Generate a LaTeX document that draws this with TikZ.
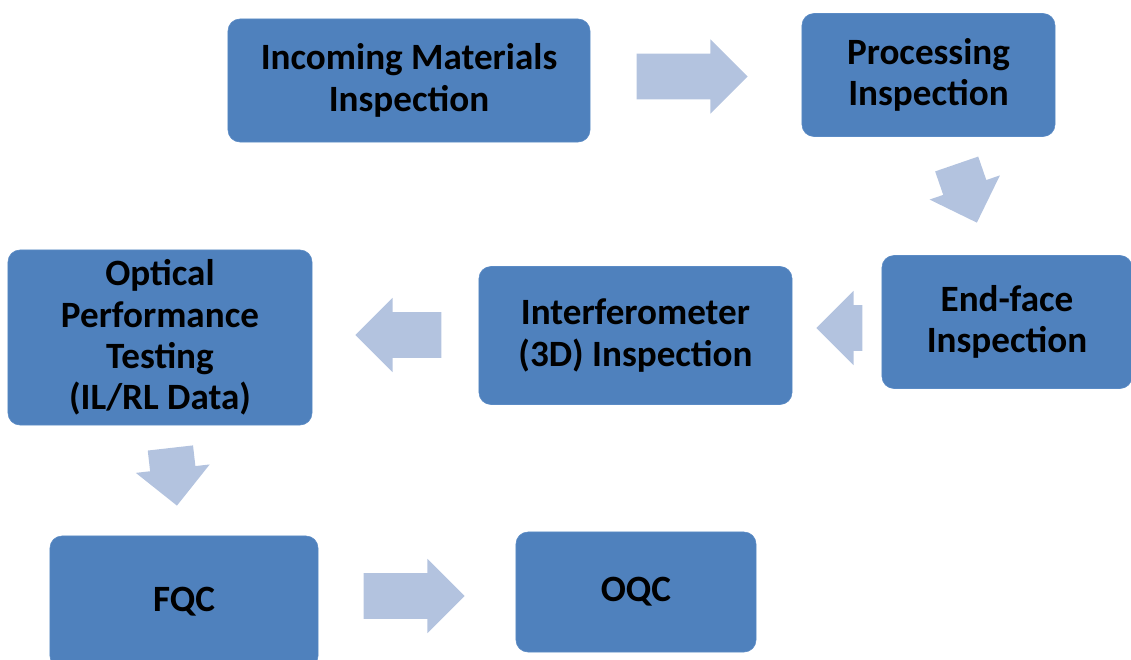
\documentclass[tikz,border=0pt]{standalone}
\usepackage{fontspec}
\setmainfont{Carlito}
\usetikzlibrary{shapes.arrows}
\definecolor{stageblue}{HTML}{4F81BD}
\definecolor{stageline}{HTML}{5B8BC5}
\definecolor{flowblue}{HTML}{B3C3DF}
\begin{document}
\begin{tikzpicture}[x=0.025cm,y=-0.025cm,
    stage/.style={draw=stageline,fill=stageblue,rounded corners=0.3cm,
      align=center,inner sep=0pt,font=\bfseries\fontsize{26.4}{29.5}\selectfont},
    flow/.style={single arrow,fill=flowblue,draw=none,anchor=tip,
      inner xsep=0pt,inner ysep=0.5625cm,single arrow head extend=0.36cm}]
    \useasboundingbox (0,0) rectangle (1131,659);
    % stages
    \node (incoming) at (409,80.5) [stage,minimum width=9.05cm,minimum height=3.075cm]
      {Incoming Materials\\Inspection};
    \node (processing) at (928.5,75) [stage,minimum width=6.325cm,minimum height=3.075cm]
      {Processing\\Inspection};
    \node (endface) at (1007,322) [stage,minimum width=6.25cm,minimum height=3.325cm]
      {End-face\\Inspection};
    \node (interfero) at (635.5,335.5) [stage,minimum width=7.825cm,minimum height=3.45cm]
      {Interferometer\\(3D) Inspection};
    \node (optical) at (160,337.5) [stage,minimum width=7.6cm,minimum height=4.375cm]
      {Optical\\Performance\\Testing\\(IL/RL Data)};
    \node (fqc) at (184,602) [stage,minimum width=6.7cm,minimum height=3.3cm] {FQC};
    \node (oqc) at (636,592) [stage,minimum width=6cm,minimum height=3cm] {OQC};
    % block arrows between the stages
    \node (incToProc) at (748,76.5) [flow,minimum height=2.775cm] {};
    \node (procToEnd) at (977,223) [flow,minimum height=1.55cm,rotate=-71] {};
    \node (endToInt) at (816,328) [flow,minimum height=1.15cm,rotate=180] {};
    \node (intToOpt) at (355,335) [flow,minimum height=2.15cm,rotate=180] {};
    \node (optToFqc) at (177,506) [flow,minimum height=1.45cm,rotate=-83.5] {};
    \node (fqcToOqc) at (465,596) [flow,minimum height=2.525cm] {};
  \end{tikzpicture}
\end{document}
